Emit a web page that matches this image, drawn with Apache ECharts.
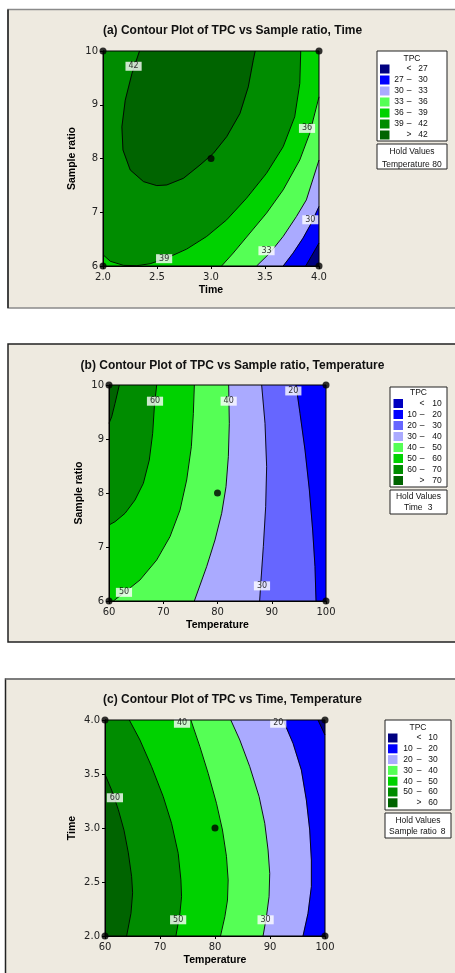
<!DOCTYPE html>
<html><head><meta charset="utf-8">
<script src="https://cdn.jsdelivr.net/npm/echarts/dist/echarts.min.js"></script>
<style>html,body{margin:0;padding:0;background:#fff}#c{width:455px;height:973px}</style>
</head><body><div id="c"></div>
<script>
// ---------- Panel (a): TPC vs Sample ratio, Time (Temperature = 80) ----------
const aXTicks = [2.0, 2.5, 3.0, 3.5, 4.0];
const aYTicks = [6, 7, 8, 9, 10];
const aPoints = [[2,6],[2,10],[4,6],[4,10],[3,8]];
const aC42 = [[2.338,10],[2.268,9.580],[2.206,9.085],[2.175,8.590],[2.185,8.158],[2.252,7.787],[2.375,7.570],[2.498,7.496],[2.591,7.508],[2.745,7.632],[2.898,7.879],[3.022,8.096],[3.145,8.405],[3.268,8.838],[3.345,9.332],[3.391,9.827],[3.409,10]];
const aC39 = [[2.0,6.210],[2.068,6.087],[2.191,6.012],[2.314,6.006],[2.437,6.043],[2.591,6.148],[2.775,6.315],[2.960,6.550],[3.145,6.859],[3.329,7.261],[3.514,7.725],[3.668,8.219],[3.775,8.776],[3.822,9.394],[3.831,10]];
const aC36 = [[3.098,6],[3.206,6.241],[3.360,6.612],[3.514,6.983],[3.668,7.416],[3.822,7.972],[3.914,8.467],[4.0,9.147]];
const aC33 = [[3.422,6],[3.545,6.241],[3.668,6.550],[3.791,6.921],[3.883,7.230],[4.0,7.972]];
const aC30 = [[3.668,6],[3.760,6.241],[3.852,6.519],[3.929,6.798],[4.0,7.107]];
const aC27 = [[3.877,6],[3.929,6.179],[4.0,6.427]];
const aLabels = [[2.283,9.716,'42'],[2.566,6.136,'39'],[3.889,8.56,'36'],[3.514,6.284,'33'],[3.920,6.86,'30']];
const aLegend = [['','<','27'],['27','–','30'],['30','–','33'],['33','–','36'],['36','–','39'],['39','–','42'],['','>','42']];
const aHold = ['Temperature','80'];

// ---------- Panel (b): TPC vs Sample ratio, Temperature (Time = 3) ----------
const bXTicks = [60, 70, 80, 90, 100];
const bYTicks = [6, 7, 8, 9, 10];
const bPoints = [[60,6],[60,10],[100,6],[100,10],[80,8]];
const bC70 = [[61.90,10],[61.11,9.66],[60.49,9.41],[60,9.29]];
const bC60 = [[68.79,10],[68.36,9.599],[68.05,9.105],[67.43,8.611],[66.33,8.179],[64.79,7.870],[62.95,7.623],[61.11,7.469],[60,7.407]];
const bC50 = [[75.73,10],[75.55,9.475],[75.18,8.858],[74.32,8.241],[73.09,7.685],[71.24,7.191],[68.79,6.759],[65.71,6.389],[62.64,6.142],[60.80,6]];
const bC40 = [[82.06,10],[82.18,9.29],[82.0,8.673],[81.57,8.117],[80.77,7.623],[79.54,7.130],[78.0,6.636],[75.73,6]];
const bC30 = [[88.14,10],[88.76,9.29],[89.06,8.488],[88.88,7.747],[88.45,7.006],[88.02,6.389],[87.77,6]];
const bC20 = [[94.47,10],[95.21,9.475],[96.13,8.796],[96.93,8.056],[97.54,7.315],[97.97,6.636],[98.16,6]];
const bLabels = [[68.48,9.70,'60'],[82.06,9.70,'40'],[93.98,9.89,'20'],[62.76,6.16,'50'],[88.20,6.28,'30']];
const bLegend = [['','<','10'],['10','–','20'],['20','–','30'],['30','–','40'],['40','–','50'],['50','–','60'],['60','–','70'],['','>','70']];
const bHold = ['Time','3'];

// ---------- Panel (c): TPC vs Time, Temperature (Sample ratio = 8) ----------
const cXTicks = [60, 70, 80, 90, 100];
const cYTicks = [2.0, 2.5, 3.0, 3.5, 4.0];
const cPoints = [[60,2],[60,4],[100,2],[100,4],[80,3]];
const cC60 = [[60,3.497],[61.21,3.35],[62.42,3.17],[63.45,2.98],[64.24,2.77],[64.84,2.55],[65.02,2.40],[64.72,2.21],[63.93,2.0]];
const cC50 = [[64.42,4.0],[66.35,3.815],[68.47,3.568],[70.59,3.29],[72.10,3.043],[73.31,2.765],[73.80,2.519],[73.92,2.364],[73.62,2.21],[72.89,2.0]];
const cC40 = [[75.61,4.0],[77.25,3.753],[78.76,3.506],[80.27,3.228],[81.36,2.981],[82.09,2.735],[82.39,2.519],[82.27,2.333],[81.79,2.179],[81.0,2.0]];
const cC30 = [[82.87,4.0],[84.51,3.815],[86.32,3.568],[88.02,3.29],[89.05,3.043],[89.65,2.796],[89.95,2.58],[89.83,2.364],[89.35,2.179],[88.74,2.0]];
const cC20 = [[92.38,4.0],[94.19,3.784],[95.70,3.537],[96.61,3.259],[97.22,2.981],[97.52,2.704],[97.52,2.457],[96.91,2.21],[96.0,2.0]];
const cC10 = [[98.73,4.0],[100,3.861]];
const cLabels = [[61.8,3.28,'60'],[73.3,2.15,'50'],[74.0,3.97,'40'],[89.2,2.15,'30'],[91.5,3.97,'20']];
const cLegend = [['','<','10'],['10','–','20'],['20','–','30'],['30','–','40'],['40','–','50'],['50','–','60'],['','>','60']];
const cHold = ['Sample ratio','8'];

// ---------- styling ----------
const NAVY='#000080', BLUE='#0000FF', MBLUE='#6666FF', LAV='#AAAAFF', LGREEN='#55FF55', BGREEN='#00D200', MGREEN='#008C00', DGREEN='#006400';
const BG='#EEEAE0';
const FONT='Liberation Sans';
const LFONT='8.5px "Liberation Sans"';

const panels = [
  { xT:aXTicks, yT:aYTicks, dec:[1,0], grid:{left:103,top:51,width:216,height:215}, xName:'Time', yName:'Sample ratio', yGap:25,
    title:'(a) Contour Plot of TPC vs Sample ratio, Time', titleY:31,
    base:[aXTicks[0],aYTicks[0],aXTicks[4],aYTicks[4]], baseColor:MGREEN,
    regions:[
      {pts:aC42, close:[], color:DGREEN},
      {pts:aC39, close:[[4,10],[4,6],[2,6]], color:BGREEN},
      {pts:aC36, close:[[4,6]], color:LGREEN},
      {pts:aC33, close:[[4,6]], color:LAV},
      {pts:aC30, close:[[4,6]], color:BLUE},
      {pts:aC27, close:[[4,6]], color:NAVY}],
    lines:[aC42,aC39,aC36,aC33,aC30,aC27], labels:aLabels, points:aPoints,
    legend:{rows:aLegend, colors:[NAVY,BLUE,LAV,LGREEN,BGREEN,MGREEN,DGREEN], box:[377,51,70,90], titleY:58.5, rowY:69, dy:11, sw:380, cols:[399,409,423],
      hold:aHold, hbox:[377,144,70,25], hy:[152,164.5], hx:[404,382,437]} },
  { xT:bXTicks, yT:bYTicks, dec:[0,0], grid:{left:109,top:385,width:217,height:216}, xName:'Temperature', yName:'Sample ratio', yGap:24,
    title:'(b) Contour Plot of TPC vs Sample ratio, Temperature', titleY:366,
    base:[60,6,100,10], baseColor:DGREEN,
    regions:[
      {pts:bC70, close:[[60,6],[100,6],[100,10]], color:MGREEN},
      {pts:bC60, close:[[60,6],[100,6],[100,10]], color:BGREEN},
      {pts:bC50, close:[[100,6],[100,10]], color:LGREEN},
      {pts:bC40, close:[[100,6],[100,10]], color:LAV},
      {pts:bC30, close:[[100,6],[100,10]], color:MBLUE},
      {pts:bC20, close:[[100,6],[100,10]], color:BLUE}],
    lines:[bC70,bC60,bC50,bC40,bC30,bC20], labels:bLabels, points:bPoints,
    legend:{rows:bLegend, colors:['#0000C0',BLUE,MBLUE,LAV,LGREEN,BGREEN,MGREEN,DGREEN], box:[390,387,57,100], titleY:392.5, rowY:403.5, dy:11, sw:393.5, cols:[412,422,437],
      hold:bHold, hbox:[390,490,57,24], hy:[497,508], hx:[418.5,404,430]} },
  { xT:cXTicks, yT:cYTicks, dec:[0,1], grid:{left:105,top:720,width:220,height:216}, xName:'Temperature', yName:'Time', yGap:27,
    title:'(c) Contour Plot of TPC vs Time, Temperature', titleY:700,
    base:[60,2,100,4], baseColor:DGREEN,
    regions:[
      {pts:cC60, close:[[100,2],[100,4],[60,4]], color:MGREEN},
      {pts:cC50, close:[[100,2],[100,4]], color:BGREEN},
      {pts:cC40, close:[[100,2],[100,4]], color:LGREEN},
      {pts:cC30, close:[[100,2],[100,4]], color:LAV},
      {pts:cC20, close:[[100,2],[100,4]], color:BLUE},
      {pts:cC10, close:[[100,4]], color:NAVY}],
    lines:[cC60,cC50,cC40,cC30,cC20,cC10], labels:cLabels, points:cPoints,
    legend:{rows:cLegend, colors:[NAVY,BLUE,LAV,LGREEN,BGREEN,MGREEN,DGREEN], box:[385,720,66,90], titleY:727.5, rowY:738, dy:10.8, sw:388, cols:[408,419,433],
      hold:cHold, hbox:[385,813,66,25], hy:[821,831.5], hx:[418,389,443]} }
];

const grids=[], xAxes=[], yAxes=[], series=[], graphics=[];

// panel frames
graphics.push({type:'rect', shape:{x:8,y:9.5,width:470,height:298.5}, style:{fill:BG, stroke:'#8a8a8a', lineWidth:1.5}, z:0});
graphics.push({type:'line', shape:{x1:8,y1:9.5,x2:8,y2:308}, style:{stroke:'#222',lineWidth:1.5}, z:0});
graphics.push({type:'rect', shape:{x:8,y:344,width:470,height:298}, style:{fill:BG, stroke:'#222', lineWidth:1.5}, z:0});
graphics.push({type:'rect', shape:{x:5.5,y:679,width:470,height:310}, style:{fill:BG, stroke:'#222', lineWidth:1.5}, z:0});
graphics.push({type:'line', shape:{x1:5.5,y1:679,x2:470,y2:679}, style:{stroke:'#8a8a8a',lineWidth:1.5}, z:0});

panels.forEach((p, i) => {
  grids.push(Object.assign({show:true, borderColor:'#000', borderWidth:1, backgroundColor:'transparent', z:5}, p.grid));
  const fmt = d => (v => v.toFixed(d));
  xAxes.push({type:'value', gridIndex:i, min:p.xT[0], max:p.xT[p.xT.length-1], interval:p.xT[1]-p.xT[0],
    axisLine:{show:true, onZero:false, lineStyle:{color:'#000', width:1}},
    axisTick:{show:true, length:3, lineStyle:{color:'#000'}}, splitLine:{show:false},
    axisLabel:{fontSize:10, color:'#222', fontFamily:'DejaVu Sans', margin:6, formatter:fmt(p.dec[0])},
    name:p.xName, nameLocation:'middle', nameGap:19,
    nameTextStyle:{fontFamily:FONT, fontWeight:'bold', fontSize:10.5, color:'#000'}, z:6});
  yAxes.push({type:'value', gridIndex:i, min:p.yT[0], max:p.yT[p.yT.length-1], interval:p.yT[1]-p.yT[0],
    axisLine:{show:true, onZero:false, lineStyle:{color:'#000', width:1}},
    axisTick:{show:true, length:3, lineStyle:{color:'#000'}}, splitLine:{show:false},
    axisLabel:{fontSize:10, color:'#222', fontFamily:'DejaVu Sans', margin:5, formatter:fmt(p.dec[1])},
    name:p.yName, nameLocation:'middle', nameGap:p.yGap, nameRotate:90,
    nameTextStyle:{fontFamily:FONT, fontWeight:'bold', fontSize:10.5, color:'#000'}, z:6});

  // filled bands (base rectangle + nested regions)
  const polys = [{pts:[[p.base[0],p.base[1]],[p.base[2],p.base[1]],[p.base[2],p.base[3]],[p.base[0],p.base[3]]], color:p.baseColor}]
    .concat(p.regions.map(r => ({pts:r.pts.concat(r.close), color:r.color})));
  series.push({type:'custom', xAxisIndex:i, yAxisIndex:i, silent:true, animation:false, clip:true, z:1,
    data: polys.map((q, k) => [k]),
    renderItem: (params, api) => {
      const q = polys[params.dataIndex];
      return {type:'polygon', shape:{points:q.pts.map(pt => api.coord(pt))}, style:{fill:q.color, stroke:q.color, lineWidth:0.5}};
    }});
  // contour lines
  p.lines.forEach(ln => series.push({type:'line', xAxisIndex:i, yAxisIndex:i, data:ln, showSymbol:false, silent:true,
    animation:false, z:2, lineStyle:{color:'#000', width:0.9}}));
  // contour labels
  series.push({type:'scatter', xAxisIndex:i, yAxisIndex:i, silent:true, animation:false, z:3, symbolSize:1,
    itemStyle:{color:'rgba(0,0,0,0)'}, data:p.labels.map(l => ({value:[l[0], l[1]], name:l[2]})),
    label:{show:true, position:'inside', formatter:'{b}', fontSize:8, fontFamily:'DejaVu Sans', color:'#000',
      backgroundColor:'#fff', padding:[1,3,0,3]}});
  // design points
  series.push({type:'scatter', xAxisIndex:i, yAxisIndex:i, silent:true, animation:false, z:4, symbolSize:7,
    itemStyle:{color:'#000'}, data:p.points});

  // title
  graphics.push({type:'text', x:232.5, y:p.titleY, z:10, style:{text:p.title, font:'bold 12px "'+FONT+'"', fill:'#111',
    textAlign:'center', textVerticalAlign:'middle'}});
  // legend
  const L = p.legend;
  graphics.push({type:'rect', z:10, shape:{x:L.box[0], y:L.box[1], width:L.box[2], height:L.box[3]}, style:{fill:'#fff', stroke:'#222', lineWidth:1}});
  graphics.push({type:'text', z:11, x:L.box[0]+L.box[2]/2, y:L.titleY, style:{text:'TPC', font:LFONT, fill:'#111', textAlign:'center', textVerticalAlign:'middle'}});
  L.rows.forEach((r, k) => {
    const y = L.rowY + k*L.dy;
    graphics.push({type:'rect', z:11, shape:{x:L.sw, y:y-4.5, width:9.5, height:9}, style:{fill:L.colors[k]}});
    r.forEach((t, c) => graphics.push({type:'text', z:11, x:L.cols[c], y:y,
      style:{text:t, font:LFONT, fill:'#111', textAlign:'center', textVerticalAlign:'middle'}}));
  });
  graphics.push({type:'rect', z:10, shape:{x:L.hbox[0], y:L.hbox[1], width:L.hbox[2], height:L.hbox[3]}, style:{fill:'#fff', stroke:'#222', lineWidth:1}});
  graphics.push({type:'text', z:11, x:L.hbox[0]+L.hbox[2]/2, y:L.hy[0], style:{text:'Hold Values', font:LFONT, fill:'#111', textAlign:'center', textVerticalAlign:'middle'}});
  graphics.push({type:'text', z:11, x:L.hx[1], y:L.hy[1], style:{text:L.hold[0], font:LFONT, fill:'#111', textAlign:'left', textVerticalAlign:'middle'}});
  graphics.push({type:'text', z:11, x:L.hx[2], y:L.hy[1], style:{text:L.hold[1], font:LFONT, fill:'#111', textAlign:'center', textVerticalAlign:'middle'}});
});

const chart = echarts.init(document.getElementById('c'), null, {renderer:'canvas'});
chart.setOption({animation:false, backgroundColor:'#fff', grid:grids, xAxis:xAxes, yAxis:yAxes, series:series,
  graphic:{elements:graphics}});
</script></body></html>
